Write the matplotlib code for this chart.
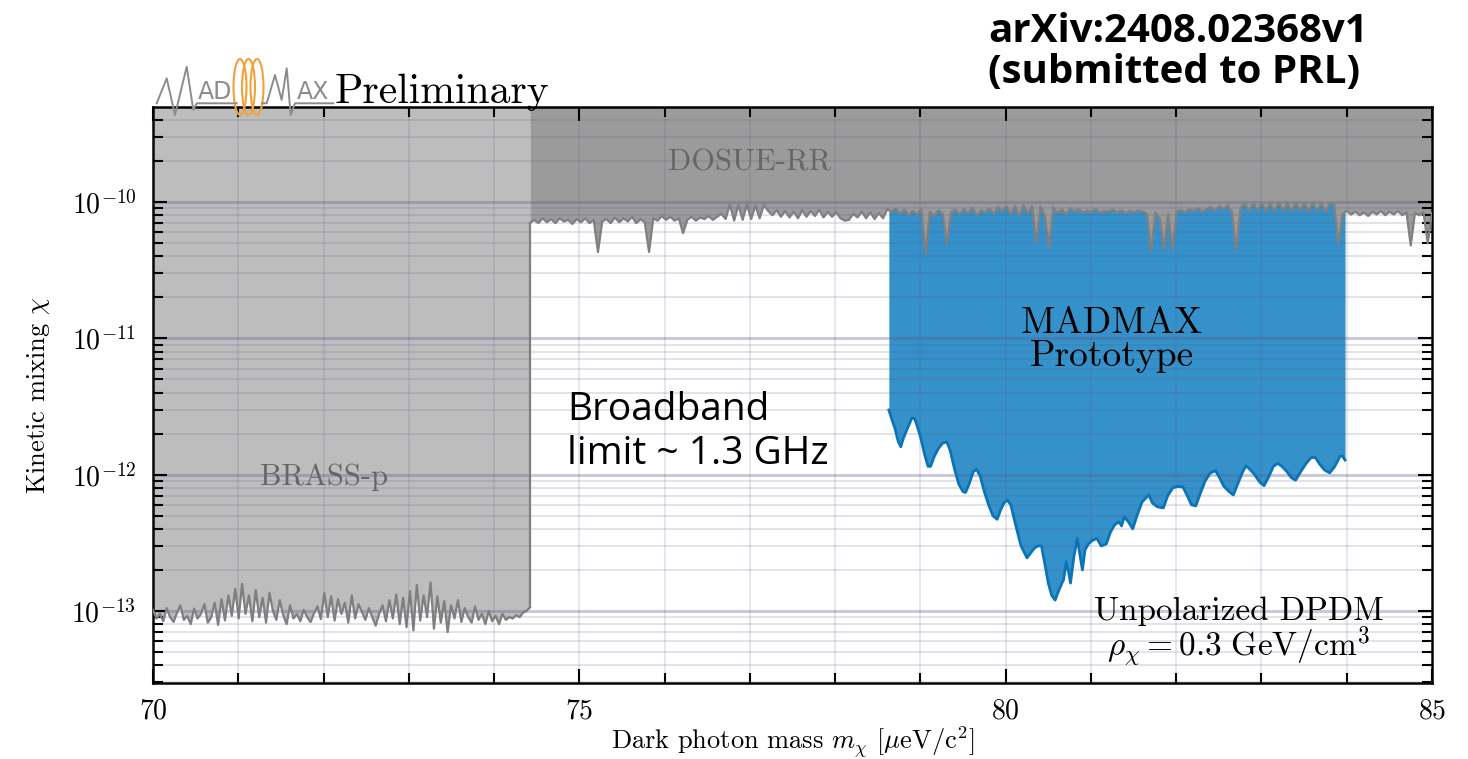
import numpy as np
import matplotlib
matplotlib.use("Agg")
import matplotlib.pyplot as plt
from matplotlib.ticker import LogLocator, MultipleLocator, NullFormatter, FixedLocator
from matplotlib.patches import Ellipse
from matplotlib.lines import Line2D

plt.rcParams['font.family'] = 'serif'
plt.rcParams['font.serif'] = ['cmr10']
plt.rcParams['mathtext.fontset'] = 'cm'
plt.rcParams['axes.formatter.use_mathtext'] = True

# BRASS-p limit (units of 1e-13), 70.0 .. 74.4
brass_vals = [
    1.02, 0.88, 0.95, 0.84, 1.05, 0.90, 0.83, 0.97, 1.10, 0.86, 0.92, 0.80, 1.04,
    0.88, 0.95, 1.12, 0.82, 0.90, 1.15, 0.79, 1.22, 0.85, 1.30, 0.92, 1.45, 0.88,
    1.58, 0.95, 1.30, 0.84, 1.42, 0.90, 1.25, 0.82, 1.36, 1.00, 0.86, 1.20,
    0.93, 0.80, 1.10, 0.88, 0.95, 0.84, 1.02, 0.90, 0.83, 0.96, 1.08, 0.87,
    1.35, 0.90, 1.28, 0.85, 1.22, 0.95, 1.15, 0.82, 1.30, 0.88, 1.12, 0.98, 0.86,
    1.05, 0.90, 0.78, 0.95, 1.10, 0.84, 1.20, 0.88, 1.32, 0.80, 1.25, 0.76,
    1.40, 0.72, 1.55, 0.85, 1.30, 0.90, 1.62, 0.74, 1.28, 0.82, 1.18, 0.70, 1.10,
    0.88, 1.20, 0.83, 1.05, 0.90, 0.82, 1.08, 0.86, 0.95, 0.80, 1.00, 0.84,
    0.92, 0.80, 0.95, 0.86, 0.90, 0.88, 0.93, 0.90, 0.97, 1.00, 1.06,
]
brass_range = (70.0, 74.42)

# DOSUE-RR limit (units of 1e-11), 74.42 .. 85.0
dosue_vals = [
    7.0, 7.4, 7.0, 7.6, 7.1, 7.5, 7.0, 7.6, 7.2, 7.4, 6.9, 7.5,
    7.1, 7.6, 7.0, 7.4, 4.3, 7.2, 7.5, 7.0, 7.7, 7.1,
    7.6, 7.2, 7.8, 7.0, 7.5, 7.1, 4.3, 7.6, 7.3, 7.9,
    7.4, 7.8, 7.3, 7.6, 5.9, 7.4, 7.8, 7.3, 7.7, 7.5,
    7.9, 7.4, 7.8, 8.2, 7.5, 9.6, 7.3, 9.5, 7.4, 9.6,
    7.5, 9.4, 7.6, 9.5, 8.6, 8.0, 8.7, 7.8, 8.6, 7.7,
    8.5, 7.6, 8.7, 7.8, 8.6, 7.9, 8.8, 7.7, 8.5, 7.8,
    8.4, 7.6, 7.3, 7.4, 8.2, 7.7, 8.5, 7.6, 8.4, 7.5,
    8.3, 7.6, 8.9, 8.4, 9.0, 8.2, 8.8, 8.0, 8.6, 8.1,
    8.9, 4.1, 8.5, 7.9, 8.7, 8.2, 4.9, 8.4, 8.8, 8.1,
    8.9, 8.3, 9.1, 8.0, 8.7, 8.4, 9.0, 8.2, 9.2, 8.5,
    9.3, 8.1, 9.4, 7.9, 9.5, 8.2, 9.4, 5.0, 9.3, 8.0,
    4.6, 9.1, 8.3, 8.8, 8.1, 9.0, 8.5, 8.9, 8.3, 8.7,
    8.4, 8.9, 8.3, 8.6, 8.5, 8.8, 8.4, 8.7, 8.3, 8.6,
    8.4, 8.7, 8.5, 8.2, 4.3, 8.4, 7.6, 4.5, 8.2, 4.5,
    8.5, 8.7, 8.4, 8.9, 8.6, 9.0, 8.5, 8.8, 9.2, 8.6,
    9.4, 8.8, 9.5, 8.4, 4.4, 9.1, 9.7, 8.6, 9.8, 8.7,
    9.9, 8.6, 9.8, 8.5, 9.9, 8.6, 9.8, 8.5, 9.9, 8.6,
    9.8, 8.5, 9.9, 8.6, 9.8, 8.4, 9.9, 9.6, 5.0, 8.2,
    8.6, 8.1, 8.5, 8.0, 8.4, 7.9, 8.5, 8.1, 8.6, 8.0,
    8.5, 8.1, 8.6, 8.0, 8.4, 4.8, 8.3, 8.0, 8.4, 5.0, 8.3,
]
dosue_range = (74.42, 85.0)

# MADMAX prototype limit: mass [ueV] and chi (units of 1e-12)
madmax_m = [
    78.63, 78.66, 78.70, 78.74, 78.77, 78.80, 78.85, 78.90, 78.93, 78.96,
    79.00, 79.05, 79.09, 79.12, 79.16, 79.21, 79.26, 79.31, 79.35, 79.40,
    79.45, 79.50, 79.53, 79.57, 79.62, 79.66, 79.70, 79.75, 79.80, 79.85,
    79.90, 79.94, 79.98, 80.02, 80.06, 80.12, 80.18, 80.25, 80.30, 80.34,
    80.38, 80.42, 80.46, 80.50, 80.54, 80.58, 80.62, 80.66, 80.68, 80.71,
    80.74, 80.76, 80.80, 80.84, 80.87, 80.90, 80.93, 80.97, 81.02, 81.07,
    81.12, 81.18, 81.23, 81.28, 81.33, 81.36, 81.39, 81.44, 81.49, 81.54,
    81.60, 81.65, 81.68, 81.72, 81.78, 81.85, 81.90, 81.96, 82.02, 82.08,
    82.13, 82.18, 82.23, 82.28, 82.34, 82.40, 82.46, 82.50, 82.56, 82.62,
    82.67, 82.72, 82.78, 82.82, 82.86, 82.92, 82.98, 83.03, 83.08, 83.14,
    83.19, 83.24, 83.30, 83.35, 83.40, 83.46, 83.52, 83.58, 83.63, 83.68,
    83.74, 83.80, 83.86, 83.92, 83.95, 83.98,
]
madmax_chi = [
    2.98, 2.60, 2.20, 1.75, 1.60, 1.85, 2.20, 2.60, 2.59, 2.30,
    1.90, 1.40, 1.15, 1.15, 1.35, 1.55, 1.70, 1.74, 1.50, 1.10,
    0.85, 0.75, 0.74, 0.85, 1.05, 1.09, 0.98, 0.75, 0.60, 0.50,
    0.47, 0.55, 0.62, 0.65, 0.60, 0.42, 0.30, 0.245, 0.27, 0.29,
    0.30, 0.30, 0.22, 0.16, 0.13, 0.12, 0.14, 0.16, 0.17, 0.23,
    0.19, 0.16, 0.25, 0.34, 0.26, 0.20, 0.28, 0.31, 0.33, 0.34,
    0.30, 0.31, 0.38, 0.43, 0.45, 0.42, 0.49, 0.45, 0.40, 0.50,
    0.63, 0.68, 0.71, 0.62, 0.58, 0.57, 0.70, 0.80, 0.82, 0.81,
    0.70, 0.60, 0.59, 0.72, 0.90, 1.03, 1.07, 0.97, 0.82, 0.75,
    0.71, 0.85, 1.05, 1.16, 1.10, 1.00, 0.88, 0.83, 0.95, 1.15,
    1.21, 1.15, 1.05, 0.95, 0.91, 1.05, 1.20, 1.33, 1.34, 1.20,
    1.08, 1.03, 1.15, 1.36, 1.37, 1.28,
]

brass_m = np.linspace(*brass_range, len(brass_vals))
brass_chi = np.array(brass_vals) * 1e-13
dosue_m = np.linspace(*dosue_range, len(dosue_vals))
dosue_chi = np.array(dosue_vals) * 1e-11
mm_m = np.array(madmax_m)
mm_chi = np.array(madmax_chi) * 1e-12

ytop = 4.98e-10
ybot = 2.96e-14

W, H = 1468, 759
fig = plt.figure(figsize=(W / 100, H / 100), dpi=100)
ax = fig.add_axes([153 / W, 1 - 683 / H, (1432 - 153) / W, (683 - 107) / H])
ax.set_yscale('log')

# fills
ax.fill_between(mm_m, mm_chi, 1.0e-10, color='#3591c9', lw=0, zorder=1)
ax.plot(mm_m, mm_chi, color='#0b74b8', lw=2, zorder=3)
ax.fill_between(brass_m, brass_chi, ytop * 2, color='#bdbdbd', lw=0, zorder=1.2)
ax.plot(brass_m, brass_chi, color='#7f7f7f', lw=1.6, zorder=3)
ax.plot([brass_m[-1], brass_m[-1]], [brass_chi[-1], dosue_chi[0]], color='#7f7f7f', lw=1.6, zorder=3)
ax.fill_between(dosue_m, dosue_chi, ytop * 2, color='#9b9b9b', lw=0, zorder=1.2)
ax.plot(dosue_m, dosue_chi, color='#808080', lw=1.6, zorder=3)

ax.set_xlim(70, 85)
ax.set_ylim(ybot, ytop)
ax.xaxis.set_major_locator(FixedLocator([70, 75, 80, 85]))
ax.xaxis.set_minor_locator(MultipleLocator(1))
ax.yaxis.set_major_locator(FixedLocator([1e-13, 1e-12, 1e-11, 1e-10]))
ax.yaxis.set_minor_locator(LogLocator(base=10, subs=np.arange(2, 10), numticks=50))
ax.yaxis.set_minor_formatter(NullFormatter())

ax.set_axisbelow(False)
ax.xaxis.grid(True, which='both', color=(0.35, 0.35, 0.55), alpha=0.16, lw=1.3)
ax.yaxis.grid(True, which='major', color=(0.35, 0.35, 0.55), alpha=0.32, lw=2.2)
ax.yaxis.grid(True, which='minor', color=(0.35, 0.35, 0.55), alpha=0.18, lw=1.3)

ax.tick_params(which='both', direction='in', top=True, right=True, width=1.5, labelsize=20)
ax.tick_params(which='major', length=10)
ax.tick_params(which='minor', length=7)
ax.tick_params(axis='x', which='major', pad=11)
ax.tick_params(axis='y', which='major', pad=12)
for s in ax.spines.values():
    s.set_linewidth(1.8)

ax.set_xlabel(r'Dark photon mass $m_\chi$ [$\mu\mathrm{eV/c}^2$]', fontsize=19, labelpad=0)
ax.set_ylabel(r'Kinetic mixing $\chi$', fontsize=19, labelpad=14)

# labels inside the plot
ax.text(77.0, 1.93e-10, 'DOSUE-RR', color='#666666', fontsize=22, ha='center', va='center', zorder=4)
ax.text(72.0, 9.5e-13, 'BRASS-p', color='#666666', fontsize=22, ha='center', va='center', zorder=4)
ax.text(81.24, 9.7e-12, 'MADMAX\nPrototype', color='black', fontsize=27, ha='center', va='center',
        linespacing=1.0, zorder=4)
ax.text(82.73, 7.0e-14, 'Unpolarized DPDM\n' + r'$\rho_\chi = 0.3\ \mathrm{GeV/cm}^3$', color='black',
        fontsize=24, ha='center', va='center', linespacing=0.95, zorder=4)
ax.text(74.86, 2.05e-12, 'Broadband\nlimit ~ 1.3 GHz', family='Open Sans', fontsize=28, ha='left',
        va='center', linespacing=1.2, zorder=4)

# header texts
fig.text(988 / W, 1 - 52 / H, 'arXiv:2408.02368v1\n(submitted to PRL)', family='Open Sans',
         fontweight='bold', fontsize=29, ha='left', va='center', linespacing=1.05)
fig.text(335 / W, 1 - 103 / H, 'Preliminary', fontsize=30, ha='left', va='baseline')


# MADMAX logo, drawn in figure pixels
def P(x, y):
    return x / W, 1 - y / H


logo_grey = '#8c8c8c'
left_zig = [(156.7, 103.3), (166.7, 78.3), (175, 115), (186.7, 66.7), (193.3, 110), (196.7, 103.3),
            (236.7, 103.3)]
right_zig = [(262, 103.3), (266.7, 103.3), (275, 75), (281.7, 100), (286.7, 68.3), (290.7, 115),
             (295, 103.3), (333.3, 103.3)]
for pts in (left_zig, right_zig):
    xs, ys = zip(*[P(*p) for p in pts])
    fig.add_artist(Line2D(xs, ys, color=logo_grey, lw=1.4, transform=fig.transFigure))
fig.text(*P(198, 99), 'AD', family='DejaVu Sans', color=logo_grey, fontsize=17, ha='left', va='baseline')
fig.text(*P(297, 99), 'AX', family='DejaVu Sans', color=logo_grey, fontsize=17, ha='left', va='baseline')
for cx in (240, 248.5, 257):
    fig.add_artist(Ellipse(P(cx, 87), 13 / W, 56 / H, fill=False, ec='#f2a23a', lw=1.5,
                           transform=fig.transFigure))

fig.savefig('out.png', dpi=100)
